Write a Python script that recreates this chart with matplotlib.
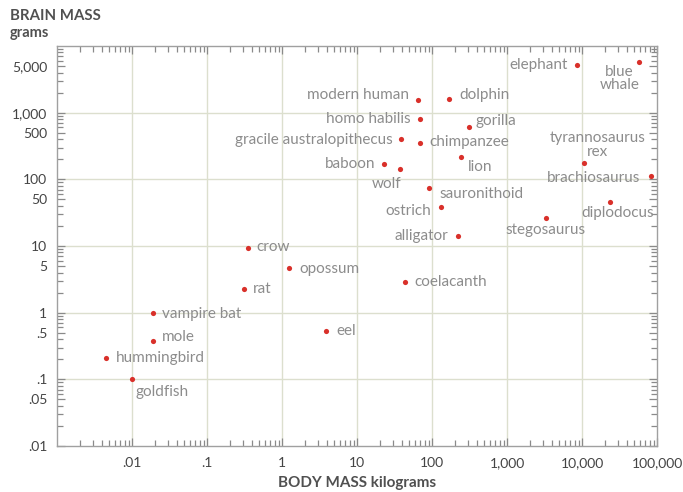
import numpy as np
import matplotlib.pyplot as plt
from matplotlib.ticker import FixedLocator, LogLocator, NullFormatter

plt.rcParams['font.family'] = ['Lato', 'DejaVu Sans']

# body mass (kg) and brain mass (g)
animals = ["elephant", "blue\nwhale", "modern human", "dolphin", "homo habilis",
           "gorilla", "gracile australopithecus", "chimpanzee", "lion", "baboon",
           "wolf", "sauronithoid", "ostrich", "alligator", "stegosaurus",
           "tyrannosaurus\nrex", "brachiosaurus", "diplodocus", "crow", "opossum",
           "rat", "coelacanth", "vampire bat", "mole", "eel", "hummingbird", "goldfish"]
body_kg = [8500, 58000, 66, 170, 70, 308, 39, 70, 240, 23,
           37, 92, 130, 225, 3300, 10500, 83000, 23500, 0.35, 1.25,
           0.31, 43, 0.019, 0.019, 3.9, 0.0045, 0.01]
brain_g = [5100, 5800, 1550, 1600, 790, 600, 400, 350, 220, 170,
           142, 75, 38, 14, 26, 175, 112, 46, 9.2, 4.7,
           2.3, 2.9, 1.0, 0.37, 0.54, 0.21, 0.1]

y_ticks = [5000, 1000, 500, 100, 50, 10, 5, 1, .5, .1, .05, .01]
y_labels = ["5,000", "1,000", "500", "100", "50", "10", "5", "1", ".5", ".1", ".05", ".01"]
x_ticks = [.01, .1, 1, 10, 100, 1000, 10000, 100000]
x_labels = [".01", ".1", "1", "10", "100", "1,000", "10,000", "100,000"]

# label placement (offset in pixels, alignment)
offsets = {
    "elephant": (-9, 0, 'right'), "blue\nwhale": (-20, -17, 'center'),
    "modern human": (-9, 5, 'right'), "dolphin": (10, 4, 'left'),
    "homo habilis": (-10, 0, 'right'), "gorilla": (7, 6, 'left'),
    "gracile australopithecus": (-9, -1, 'right'), "chimpanzee": (9, 1, 'left'),
    "lion": (7, -10, 'left'), "baboon": (-9, 0, 'right'), "wolf": (2, -15, 'right'),
    "sauronithoid": (10, -6, 'left'), "ostrich": (-9, -4, 'right'),
    "alligator": (-10, 0, 'right'), "stegosaurus": (0, -12, 'center'),
    "tyrannosaurus\nrex": (14, 18, 'center'), "brachiosaurus": (-11, -2, 'right'),
    "diplodocus": (8, -11, 'center'), "crow": (9, 1, 'left'), "opossum": (10, -1, 'left'),
    "rat": (9, 0, 'left'), "coelacanth": (10, 0, 'left'), "vampire bat": (9, -1, 'left'),
    "mole": (9, 4, 'left'), "eel": (10, 0, 'left'), "hummingbird": (10, 0, 'left'),
    "goldfish": (4, -13, 'left'),
}

fig = plt.figure(figsize=(6.83, 4.92), dpi=100)
ax = fig.add_axes([57 / 683, 1 - 446 / 492, 600 / 683, 400 / 492])
ax.set_xscale('log')
ax.set_yscale('log')
ax.set_xlim(0.001, 100000)
ax.set_ylim(0.01, 10000)

# decade grid
grid_col = '#dcdfce'
for gx in [.01, .1, 1, 10, 100, 1000, 10000]:
    ax.axvline(gx, color=grid_col, lw=1, zorder=0)
for gy in [.1, 1, 10, 100, 1000]:
    ax.axhline(gy, color=grid_col, lw=1, zorder=0)

ax.scatter(body_kg, brain_g, s=14, color='#d9302a', zorder=3, linewidths=0)

for name, bx, by in zip(animals, body_kg, brain_g):
    dx, dy, ha = offsets[name]
    ax.annotate(name, (bx, by), xytext=(dx, dy), textcoords='offset pixels',
                ha=ha, va='center', fontsize=11, color='#8c8c8c',
                linespacing=0.95, multialignment='center')

ax.yaxis.set_major_locator(FixedLocator(y_ticks))
ax.set_yticklabels(y_labels)
ax.xaxis.set_major_locator(FixedLocator(x_ticks))
ax.set_xticklabels(x_labels)
ax.xaxis.set_minor_locator(LogLocator(base=10, subs=np.arange(2, 10)))
ax.yaxis.set_minor_locator(LogLocator(base=10, subs=np.arange(2, 10)))
ax.xaxis.set_minor_formatter(NullFormatter())
ax.yaxis.set_minor_formatter(NullFormatter())
ax.tick_params(which='both', direction='in', top=True, right=True,
               color='#8a8a8a', width=0.9)
ax.tick_params(which='major', length=6, labelsize=10, labelcolor='#444444', pad=8)
ax.tick_params(which='minor', length=4)
ax.tick_params(axis='y', which='major', pad=7)
for sp in ax.spines.values():
    sp.set_color('#a0a0a0')
    sp.set_linewidth(1)

fig.text(10 / 683, 1 - 16 / 492, "BRAIN MASS", fontsize=10.8, fontweight='bold',
         color='#505050', va='center')
fig.text(10 / 683, 1 - 33 / 492, "grams", fontsize=10.5, fontweight='bold',
         color='#505050', va='center')
fig.text(357 / 683, 1 - 483 / 492, "BODY MASS kilograms", fontsize=11,
         fontweight='bold', color='#505050', ha='center', va='center')

fig.savefig('out.png', dpi=100)
